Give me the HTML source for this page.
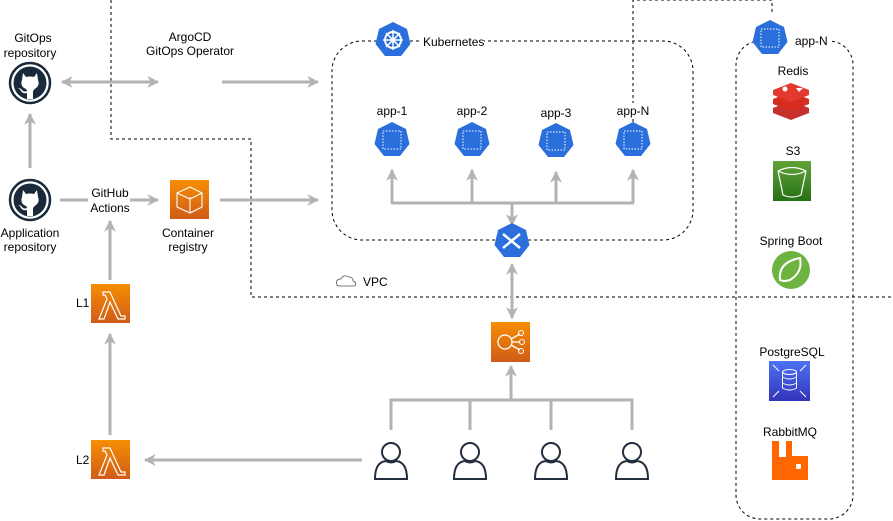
<!DOCTYPE html>
<html><head><meta charset="utf-8"><style>
html,body{margin:0;padding:0;background:#fff}
svg{display:block}
text{font-family:"Liberation Sans",sans-serif;font-size:12px;fill:#000}
</style></head><body>
<svg width="893" height="521" viewBox="0 0 893 521" xmlns="http://www.w3.org/2000/svg">
<defs>
<marker id="ah" viewBox="0 0 10 10" refX="9" refY="5" markerWidth="4" markerHeight="4" orient="auto-start-reverse"><path d="M0,0 L10,5 L0,10 L3,5 z" fill="#b3b3b3"/></marker>
<g id="hep"><polygon points="0,-18 14,-11 17.5,4 8,16 -8,16 -17.5,4 -14,-11" fill="#2a6fdb"/></g>
<g id="pod"><use href="#hep"/><rect x="-9" y="-9" width="18" height="18" fill="none" stroke="#fff" stroke-dasharray="1.5,1.5" stroke-width="1"/></g>
<g id="gh"><circle r="20" fill="#fff" stroke="#1b2a3a" stroke-width="2.5"/><circle r="16.5" fill="#1b2a3a"/><path d="M-7,-10 L-4,-6 Q0,-7 4,-6 L7,-10 L8,-3 Q10,2 6,5 Q3,7 3,9 L3,16 L-3,16 L-3,10 Q-7,11 -9,8 Q-10,6 -12,5 Q-9,5 -7,8 Q-5,9 -3,8 Q-3,6 -6,5 Q-10,2 -8,-3 z" fill="#fff"/></g>
<g id="user" fill="#fff" stroke="#232f3e" stroke-width="2"><path d="M-16,27 Q-16,10 -5,9 Q0,12 5,9 Q16,10 16,27 z"/><circle cx="0" cy="0" r="9"/></g>
<linearGradient id="og" x1="0" y1="0" x2="0" y2="1"><stop offset="0" stop-color="#f78e04"/><stop offset="1" stop-color="#d05c17"/></linearGradient>
<linearGradient id="gg" x1="0" y1="0" x2="0" y2="1"><stop offset="0" stop-color="#60a337"/><stop offset="1" stop-color="#277116"/></linearGradient>
<linearGradient id="bg" x1="0" y1="0" x2="0" y2="1"><stop offset="0" stop-color="#4d72f3"/><stop offset="1" stop-color="#3334b9"/></linearGradient>
<g id="lam"><rect width="39" height="39" fill="url(#og)"/><path d="M12,8 L19,8 L30,32 L34,32 L34,35 L27,35 L19,18 L13,35 L8,35 L16,15 L14,11 L12,11 z" fill="none" stroke="#fff" stroke-width="1.2"/></g>
</defs>

<path d="M111,0 V139 H251 V297 H893" fill="none" stroke="#000" stroke-dasharray="3,3" stroke-width="1"/>
<text x="363" y="286" font-size="12">VPC</text>
<path d="M337,285 q-2,-6 4,-6 q2,-5 8,-2 q4,0 4,4 q4,1 2,5 h-16 q-3,-1 -2,-1z" fill="none" stroke="#555" stroke-width="0.8"/>

<rect x="332" y="41" width="361" height="199" rx="30" fill="none" stroke="#000" stroke-dasharray="3,3"/>
<use href="#hep" x="393" y="40"/>
<circle cx="393" cy="40" r="8" fill="none" stroke="#fff" stroke-width="2"/><circle cx="393" cy="40" r="2.5" fill="#fff"/>
<path d="M393,30 V50 M383,40 H403 M386,33 L400,47 M400,33 L386,47" stroke="#fff" stroke-width="1.5"/>
<rect x="420" y="34" width="64" height="16" fill="#fff"/>
<text x="423" y="46">Kubernetes</text>

<path d="M633,122 V0 H772 V12" fill="none" stroke="#000" stroke-dasharray="3,3"/>

<text x="392" y="115" text-anchor="middle">app-1</text>
<text x="472" y="115" text-anchor="middle">app-2</text>
<text x="556" y="117" text-anchor="middle">app-3</text>
<rect x="615" y="103" width="36" height="14" fill="#fff"/>
<text x="633" y="115" text-anchor="middle">app-N</text>
<use href="#pod" x="392" y="140"/><use href="#pod" x="472" y="140"/><use href="#pod" x="556" y="141"/><use href="#pod" x="633" y="140"/>

<g stroke="#b3b3b3" stroke-width="3" fill="none" marker-end="url(#ah)">
<path d="M392,203 V170"/><path d="M472,203 V170"/><path d="M556,203 V172"/><path d="M633,203 V170"/>
<path d="M512,203 V225"/>
</g>
<path d="M391,203 H634" stroke="#b3b3b3" stroke-width="3"/>

<use href="#hep" x="512" y="241"/>
<path d="M503,234 L520,248 M503,248 L520,234" stroke="#fff" stroke-width="2.5"/>

<path d="M512,264 V318" stroke="#b3b3b3" stroke-width="3" marker-start="url(#ah)" marker-end="url(#ah)"/>

<rect x="491" y="322" width="39" height="40" fill="url(#og)"/>
<circle cx="505" cy="342" r="7" fill="none" stroke="#fff" stroke-width="1.3"/>
<path d="M512,342 H520 M511,339 L520,334 M511,345 L520,350" stroke="#fff" stroke-width="1.3"/>
<circle cx="521" cy="333" r="2.5" fill="none" stroke="#fff"/><circle cx="522" cy="342" r="2.5" fill="none" stroke="#fff"/><circle cx="521" cy="351" r="2.5" fill="none" stroke="#fff"/>

<path d="M511,400 V366" stroke="#b3b3b3" stroke-width="3" marker-end="url(#ah)"/>
<path d="M391,430 V400 H632 V430 M470,400 V430 M551,400 V430" fill="none" stroke="#b3b3b3" stroke-width="3"/>
<use href="#user" x="391" y="452"/><use href="#user" x="470" y="452"/><use href="#user" x="551" y="452"/><use href="#user" x="632" y="452"/>
<path d="M362,460 H145" stroke="#b3b3b3" stroke-width="3" marker-end="url(#ah)"/>

<use href="#lam" x="91" y="440"/><text x="76" y="464">L2</text>
<use href="#lam" x="91" y="284"/><text x="76" y="307">L1</text>
<path d="M110,435 V334" stroke="#b3b3b3" stroke-width="3" marker-end="url(#ah)"/>
<path d="M110,280 V221" stroke="#b3b3b3" stroke-width="3" marker-end="url(#ah)"/>

<use href="#gh" x="30" y="83"/>
<text x="33" y="42" text-anchor="middle">GitOps</text><text x="30" y="57" text-anchor="middle">repository</text>
<use href="#gh" x="30" y="200"/>
<text x="30" y="237" text-anchor="middle">Application</text><text x="30" y="251" text-anchor="middle">repository</text>
<path d="M30,168 V114" stroke="#b3b3b3" stroke-width="3" marker-end="url(#ah)"/>
<path d="M62,82 H158" stroke="#b3b3b3" stroke-width="3" marker-start="url(#ah)" marker-end="url(#ah)"/>
<text x="190" y="41" text-anchor="middle">ArgoCD</text><text x="190" y="55" text-anchor="middle">GitOps Operator</text>
<path d="M222,82 H318" stroke="#b3b3b3" stroke-width="3" marker-end="url(#ah)"/>

<path d="M60,200 H88" stroke="#b3b3b3" stroke-width="3"/>
<text x="110" y="197" text-anchor="middle">GitHub</text><text x="110" y="212" text-anchor="middle">Actions</text>
<path d="M130,200 H158" stroke="#b3b3b3" stroke-width="3" marker-end="url(#ah)"/>
<rect x="170" y="180" width="39" height="39" fill="url(#og)"/>
<path d="M177,193 L190,187 L202,193 V207 L190,213 L177,207 z M190,197 V213 M177,193 L190,199 L202,193" fill="none" stroke="#fff" stroke-width="1.1"/>
<text x="188" y="237" text-anchor="middle" fill="#232f3e">Container</text><text x="188" y="251" text-anchor="middle" fill="#232f3e">registry</text>
<path d="M220,200 H318" stroke="#b3b3b3" stroke-width="3" marker-end="url(#ah)"/>

<rect x="736" y="41" width="117" height="478" rx="24" fill="none" stroke="#000" stroke-dasharray="3,3"/>
<use href="#pod" x="770" y="38"/>
<rect x="790" y="33" width="40" height="15" fill="#fff"/>
<text x="795" y="45">app-N</text>
<text x="793" y="75" text-anchor="middle" font-size="14">Redis</text>
<g fill="#c6302b"><path d="M773,108 L791,101 L809,108 V113 L791,120 L773,113 z"/><path d="M773,99 L791,92 L809,99 V104 L791,111 L773,104 z" fill="#d82c20"/><path d="M773,90 L791,83 L809,90 V95 L791,102 L773,95 z" fill="#e23a2e"/></g>
<circle cx="785" cy="89" r="2.5" fill="#fff"/><path d="M796,88 L803,88 L799,92z" fill="#fff"/>
<text x="793" y="155" text-anchor="middle">S3</text>
<rect x="773" y="161" width="38" height="40" fill="url(#gg)"/>
<path d="M778,171 Q792,164 806,171 L801,195 Q792,199 783,195 z M778,171 Q792,178 806,171" fill="none" stroke="#fff" stroke-width="1.2"/>
<text x="791" y="245" text-anchor="middle">Spring Boot</text>
<circle cx="791" cy="270" r="19" fill="#6db33f"/>
<path d="M780,280 Q778,262 800,258 Q803,272 790,280 Q784,282 780,280 z" fill="none" stroke="#fff" stroke-width="2"/>
<text x="792" y="356" text-anchor="middle" fill="#232f3e">PostgreSQL</text>
<rect x="769" y="361" width="41" height="40" fill="url(#bg)"/>
<ellipse cx="789.5" cy="372" rx="7" ry="2.5" fill="none" stroke="#fff"/><path d="M782.5,372 V388 Q789.5,392 796.5,388 V372 M782.5,377 Q789.5,381 796.5,377 M782.5,383 Q789.5,387 796.5,383" fill="none" stroke="#fff"/>
<path d="M773,365 l6,6 M806,365 l-6,6 M773,397 l6,-6 M806,397 l-6,-6" stroke="#fff"/>
<text x="790" y="436" text-anchor="middle">RabbitMQ</text>
<path d="M772,441 H779 V457 H786 V441 H792 V456 H808 V480 H772 z" fill="#ff6600"/>
<rect x="796" y="464" width="5" height="5" rx="1" fill="#fff"/>
</svg>
</body></html>
